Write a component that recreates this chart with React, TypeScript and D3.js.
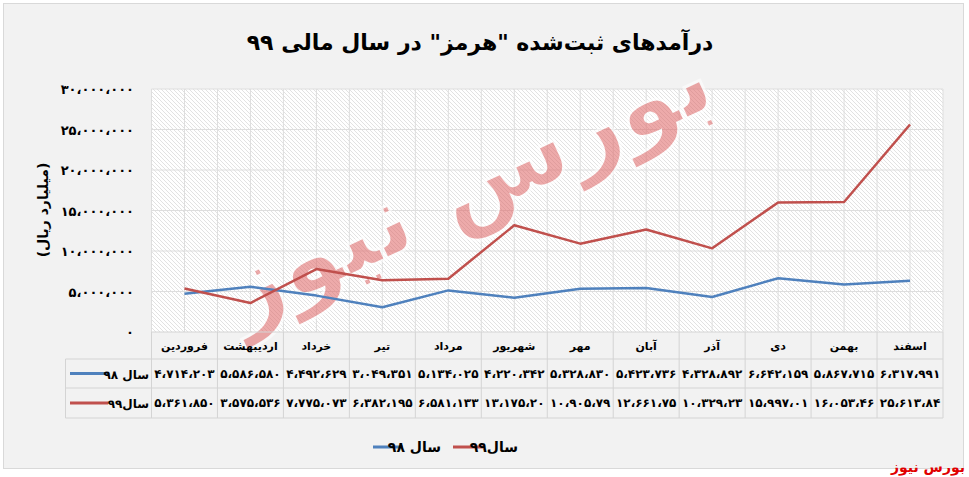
import React from "react";
import * as d3 from "d3";

const months = ["فروردین", "اردیبهشت", "خرداد", "تیر", "مرداد", "شهریور", "مهر", "آبان", "آذر", "دی", "بهمن", "اسفند"];
const sal98 = [4714203, 5586580, 4492629, 3049351, 5134025, 4220342, 5328830, 5423736, 4328892, 6642159, 5867715, 6317991];
const sal99 = [5361850, 3575536, 7775073, 6382195, 6581133, 13175200, 10905790, 12661750, 10329230, 15997010, 16053460, 25613840];
const sal99Labels = ["۵،۳۶۱،۸۵۰", "۳،۵۷۵،۵۳۶", "۷،۷۷۵،۰۷۳", "۶،۳۸۲،۱۹۵", "۶،۵۸۱،۱۳۳", "۱۳،۱۷۵،۲۰", "۱۰،۹۰۵،۷۹", "۱۲،۶۶۱،۷۵", "۱۰،۳۲۹،۲۳", "۱۵،۹۹۷،۰۱", "۱۶،۰۵۳،۴۶", "۲۵،۶۱۳،۸۴"];
const yTicks = [0, 5000000, 10000000, 15000000, 20000000, 25000000, 30000000];
const seriesNames = ["سال ۹۸", "سال۹۹"];
const title = "درآمدهای ثبت‌شده \"هرمز\" در سال مالی ۹۹";
const yTitle = "(میلیارد ریال)";
const source = "بورس نیوز";

const C98 = "#4f81bd";
const C99 = "#c0504d";
const FONT = "'DejaVu Sans', sans-serif";

const fa = (s: string) => s.replace(/[0-9]/g, (d) => "۰۱۲۳۴۵۶۷۸۹"[+d]);
const fmt = (v: number) => fa(d3.format(",")(v)).replace(/,/g, "،");

export default function App() {
  const left = 151.5, right = 943, top = 89, bottom = 332;
  const x = d3.scaleBand<string>().domain(months).range([left, right]);
  const y = d3.scaleLinear().domain([0, 30000000]).range([bottom, top]);
  const cx = (m: string) => (x(m) as number) + x.bandwidth() / 2;
  const line = d3.line<number>().x((_, i) => cx(months[i])).y((v) => y(v));

  const rowTop = [332, 359, 388, 418];
  const tableLeft = 65.5;

  const vgrid: number[] = [];
  months.forEach((m) => {
    vgrid.push(x(m) as number);
    vgrid.push(cx(m));
  });
  vgrid.push(right);

  return (
    <svg width={969} height={477} style={{ position: "absolute", left: 0, top: 0 }} fontFamily={FONT}>
      <defs>
        <pattern id="hatch" patternUnits="userSpaceOnUse" width={4} height={4}>
          <rect width={4} height={4} fill="#ffffff" />
          <path d="M-1,-1 L5,5 M-1,3 L1,5 M3,-1 L5,1" stroke="#d6d6d6" strokeWidth={0.7} />
        </pattern>
      </defs>
      <rect x={0} y={0} width={969} height={477} fill="#ffffff" />
      <rect x={3.5} y={3.5} width={960} height={465} fill="#f2f2f2" stroke="#d9d9d9" />

      <text x={480} y={50} textAnchor="middle" fontSize={22} fontWeight="bold" style={{ direction: "rtl" }}>
        {title}
      </text>

      {/* plot area */}
      <rect x={left} y={top} width={right - left} height={bottom - top} fill="url(#hatch)" />
      {yTicks.slice(1).map((t) => (
        <line key={t} x1={left} x2={right} y1={y(t)} y2={y(t)} stroke="#dedede" strokeWidth={1} />
      ))}
      {vgrid.map((g, i) => (
        <line key={i} x1={g} x2={g} y1={top} y2={bottom} stroke="#dedede" strokeWidth={1} />
      ))}

      {/* watermark */}
      <g transform="translate(480,215) rotate(-25)" opacity={0.55}>
        <text x={0} y={0} textAnchor="middle" fontSize={100} fontWeight="bold" fill="#e06666" stroke="#ffffff" strokeWidth={3}>
          {source}
        </text>
      </g>

      <path d={line(sal98) || ""} fill="none" stroke={C98} strokeWidth={2.5} strokeLinejoin="round" />
      <path d={line(sal99) || ""} fill="none" stroke={C99} strokeWidth={2.5} strokeLinejoin="round" />

      {/* y axis */}
      {yTicks.map((t) => (
        <text key={t} x={134} y={y(t) + 5} textAnchor="end" fontSize={13} fontWeight="bold">
          {fmt(t)}
        </text>
      ))}
      <text transform={`translate(48,210) rotate(-90)`} textAnchor="middle" fontSize={14} fontWeight="bold" style={{ direction: "rtl" }}>
        {yTitle}
      </text>

      {/* table */}
      <g stroke="#d4d4d4" strokeWidth={1} fill="none">
        <line x1={left} x2={right} y1={rowTop[0]} y2={rowTop[0]} />
        {rowTop.slice(1).map((r) => (
          <line key={r} x1={tableLeft} x2={right} y1={r} y2={r} />
        ))}
        <line x1={tableLeft} x2={tableLeft} y1={rowTop[1]} y2={rowTop[3]} />
        {months.map((m) => (
          <line key={m} x1={x(m) as number} x2={x(m) as number} y1={rowTop[0]} y2={rowTop[3]} />
        ))}
        <line x1={right} x2={right} y1={rowTop[0]} y2={rowTop[3]} />
      </g>
      {months.map((m) => (
        <text key={m} x={cx(m)} y={rowTop[0] + 18} textAnchor="middle" fontSize={11} fontWeight="bold">
          {m}
        </text>
      ))}
      {sal98.map((v, i) => (
        <text key={i} x={cx(months[i])} y={rowTop[1] + 19} textAnchor="middle" fontSize={12} fontWeight="bold">
          {fmt(v)}
        </text>
      ))}
      {sal99Labels.map((s, i) => (
        <text key={i} x={cx(months[i])} y={rowTop[2] + 19} textAnchor="middle" fontSize={12} fontWeight="bold">
          {s}
        </text>
      ))}
      {[C98, C99].map((c, i) => (
        <g key={c}>
          <line x1={70} x2={108} y1={(rowTop[i + 1] + rowTop[i + 2]) / 2} y2={(rowTop[i + 1] + rowTop[i + 2]) / 2} stroke={c} strokeWidth={3} />
          <text x={149} y={(rowTop[i + 1] + rowTop[i + 2]) / 2 + 5} textAnchor="end" fontSize={12} fontWeight="bold">
            {seriesNames[i]}
          </text>
        </g>
      ))}

      {/* legend */}
      <line x1={373} x2={403} y1={447} y2={447} stroke={C98} strokeWidth={3} />
      <text x={441} y={452} textAnchor="end" fontSize={14} fontWeight="bold">{seriesNames[0]}</text>
      <line x1={453} x2={483} y1={447} y2={447} stroke={C99} strokeWidth={3} />
      <text x={518} y={452} textAnchor="end" fontSize={14} fontWeight="bold">{seriesNames[1]}</text>

      <text x={965} y={472} textAnchor="end" fontSize={14} fontWeight="bold" fill="#e00000">
        {source}
      </text>
    </svg>
  );
}
